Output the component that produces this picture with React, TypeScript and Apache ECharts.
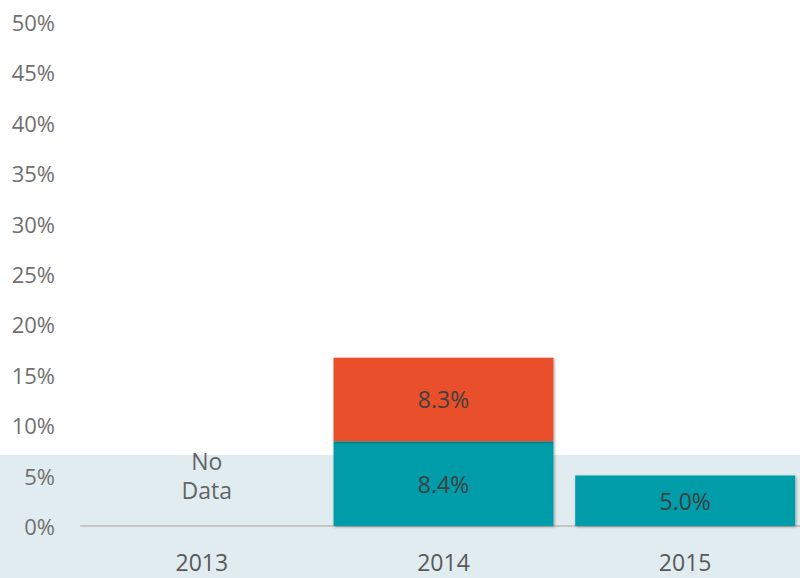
import React, { useEffect, useRef } from "react";
import * as echarts from "echarts";

const categories = ["2013", "2014", "2015"];
const lowerValues: (number | null)[] = [null, 8.4, 5.0];
const upperValues: (number | null)[] = [null, 8.3, null];
const noDataPoint: [string, number][] = [["2013", 5]];
const yTicks = [0, 5, 10, 15, 20, 25, 30, 35, 40, 45, 50];

const FONT = "Open Sans";

export default function App() {
  const ref = useRef<HTMLDivElement>(null);
  useEffect(() => {
    if (!ref.current) return;
    const chart = echarts.init(ref.current, undefined, { renderer: "svg" });
    const barShadow = {
      shadowBlur: 3,
      shadowColor: "rgba(0,0,0,0.35)",
      shadowOffsetX: 1,
      shadowOffsetY: 1,
    };
    const dataLabel = {
      show: true,
      position: "inside",
      fontFamily: FONT,
      fontSize: 23,
      color: "#3f3f3f",
      formatter: (p: any) => `${Number(p.value).toFixed(1)}%`,
    };
    chart.setOption({
      animation: false,
      backgroundColor: "#ffffff",
      graphic: [
        {
          type: "rect",
          z: -10,
          silent: true,
          shape: { x: 0, y: 455, width: 806, height: 123 },
          style: { fill: "#e0ecef" },
        },
      ],
      grid: { left: 81, right: 0, top: 22, bottom: 52 },
      xAxis: {
        type: "category",
        data: categories,
        axisLine: { show: true, lineStyle: { color: "#c4c6c8", width: 2 } },
        axisTick: { show: false },
        axisLabel: {
          fontFamily: FONT,
          fontSize: 23,
          color: "#595959",
          margin: 24,
        },
      },
      yAxis: {
        type: "value",
        min: yTicks[0],
        max: yTicks[yTicks.length - 1],
        interval: 5,
        splitLine: { show: false },
        axisLine: { show: false },
        axisTick: { show: false },
        axisLabel: {
          fontFamily: FONT,
          fontSize: 22,
          color: "#707070",
          margin: 26,
          formatter: (v: number) => `${v}%`,
        },
      },
      series: [
        {
          type: "bar",
          stack: "total",
          data: lowerValues,
          barWidth: "91%",
          itemStyle: { color: "#009ca9", ...barShadow },
          label: dataLabel,
        },
        {
          type: "bar",
          stack: "total",
          data: upperValues,
          barWidth: "91%",
          itemStyle: { color: "#e84f2c", ...barShadow },
          label: dataLabel,
        },
        {
          type: "scatter",
          data: noDataPoint,
          symbolSize: 0,
          silent: true,
          label: {
            show: true,
            position: "inside",
            offset: [5, 0],
            fontFamily: FONT,
            fontSize: 23,
            lineHeight: 29,
            color: "#3f3f3f",
            formatter: "No\nData",
          },
        },
      ],
    });
    return () => chart.dispose();
  }, []);
  return (
    <div style={{ width: 800, height: 578, position: "absolute", left: 0, top: 0, overflow: "hidden" }}>
      <div ref={ref} style={{ width: 806, height: 578 }} />
    </div>
  );
}
